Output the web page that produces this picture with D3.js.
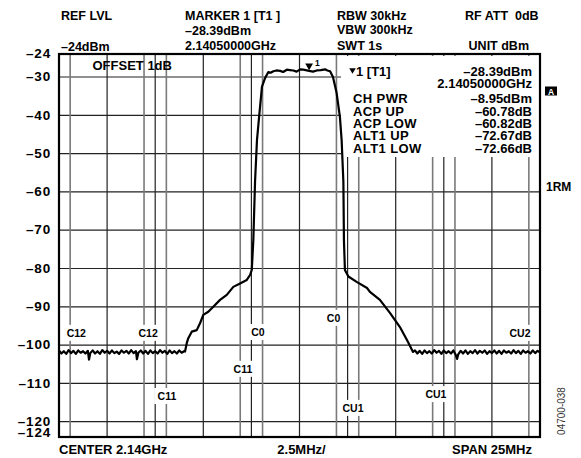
<!DOCTYPE html>
<html>
<head>
<meta charset="utf-8">
<script src="https://cdn.jsdelivr.net/npm/d3@7"></script>
<style>
  body { margin: 0; background: #fff; }
  svg text { font-family: "Liberation Sans", Arial, sans-serif; font-weight: bold; fill: #000; }
</style>
</head>
<body>
<div id="chart"></div>
<script>
// frequency offset from centre (MHz) and level (dBm) of the measured trace
var traceFreq = [
  // lower noise floor
  -12.5, -12.375, -12.25, -12.125, -12, -11.875, -11.75, -11.625, -11.5, -11.375,
  -11.25, -11.125, -11, -10.94, -10.875, -10.75, -10.625, -10.5, -10.375, -10.25,
  -10.125, -10, -9.875, -9.75, -9.625, -9.5, -9.375, -9.25, -9.125, -9,
  -8.875, -8.75, -8.625, -8.5, -8.45, -8.375, -8.25, -8.125, -8, -7.875,
  -7.75, -7.625, -7.5, -7.375, -7.25, -7.125, -7, -6.875, -6.75, -6.625,
  -6.5, -6.375, -6.25, -6.125, -6,
  // lower skirt, channel, upper skirt
  -5.95, -5.86, -5.78, -5.6, -5.34, -5.17, -5.0, -4.74, -4.48, -4.13,
  -3.78, -3.44, -3.09, -2.74, -2.57, -2.48, -2.4, -2.31, -2.21, -2.1,
  -1.95, -1.79, -1.62, -1.5, -1.36, -1.2, -1.01, -0.85, -0.66, -0.5,
  -0.32, -0.15, 0.03, 0.2, 0.5, 0.7, 0.9, 1.1, 1.33, 1.45,
  1.59, 1.74, 1.93, 2.1, 2.19, 2.28, 2.31, 2.36, 2.54, 2.97,
  3.51, 3.66, 4.18, 4.7, 5.22, 5.64, 5.9,
  // upper noise floor
  6, 6.125, 6.25, 6.375, 6.5, 6.625, 6.75, 6.875, 7, 7.125,
  7.25, 7.375, 7.5, 7.625, 7.75, 7.875, 8, 8.125, 8.19, 8.25,
  8.375, 8.5, 8.625, 8.75, 8.875, 9, 9.125, 9.25, 9.375, 9.5,
  9.625, 9.75, 9.875, 10, 10.125, 10.25, 10.375, 10.5, 10.625, 10.75,
  10.875, 11, 11.125, 11.25, 11.375, 11.5, 11.625, 11.75, 11.875, 12,
  12.125, 12.25, 12.375, 12.5
];
var traceLevel = [
  -101.4, -102.2, -101.6, -102.3, -101.3, -102.1, -101.5, -102.3, -101.4, -102.0,
  -101.6, -102.2, -101.5, -103.8, -102.1, -101.4, -102.2, -101.6, -102.3, -101.3,
  -102.0, -101.5, -102.2, -101.4, -102.1, -101.7, -102.3, -101.4, -102.0, -101.5,
  -102.2, -101.3, -102.1, -101.6, -103.7, -102.0, -101.4, -102.2, -101.5, -102.3,
  -101.4, -102.1, -101.6, -102.2, -101.3, -102.0, -101.5, -102.3, -101.4, -102.1,
  -101.6, -102.2, -101.4, -102.0, -101.6,
  -101.7, -99.5, -98.2, -96.5, -96.1, -94.3, -92.1, -91.3, -90.0, -88.2,
  -86.9, -84.8, -83.9, -83.0, -81.7, -80.4, -72.6, -57.3, -46.5, -40.4,
  -32.5, -30.3, -28.7, -28.9, -28.5, -28.3, -28.4, -28.7, -28.1, -28.2,
  -28.3, -28.6, -28.0, -28.1, -28.39, -28.6, -28.3, -28.2, -28.0, -28.3,
  -28.5, -30.0, -34.2, -40.4, -46.5, -57.3, -72.6, -80.4, -82.1, -83.5,
  -85.1, -86.1, -88.2, -91.6, -95.3, -99.2, -101.8,
  -101.4, -102.2, -101.5, -102.3, -101.4, -102.1, -101.6, -102.2, -101.3, -102.0,
  -101.5, -102.3, -101.4, -102.1, -101.6, -102.2, -101.4, -102.6, -103.6, -102.4,
  -101.5, -102.2, -101.4, -102.3, -101.6, -102.1, -101.3, -102.2, -101.5, -102.0,
  -101.4, -102.3, -101.6, -102.1, -101.4, -102.2, -101.5, -102.3, -101.4, -102.0,
  -101.6, -102.2, -101.3, -102.1, -101.5, -102.3, -101.4, -102.0, -101.6, -102.2,
  -101.4, -102.1, -101.5, -101.9
];

var yTicks = [-24, -30, -40, -50, -60, -70, -80, -90, -100, -110, -120, -124];
var xGrid = [-10, -7.5, -5, -2.5, 0, 2.5, 5, 7.5, 10];

// channel edges (MHz)
var channelEdges = [-11.92, -8.08, -6.92, -3.08, -1.92, 1.92, 3.08, 6.92, 8.08, 11.92];
// channel labels: name, frequency (MHz), level (dB)
var chanLabelNames = ['C12', 'C12', 'C11', 'C11', 'C0', 'C0', 'CU1', 'CU1', 'CU2'];
var chanLabelFreq = [-11.6, -7.87, -6.89, -2.94, -2.16, 1.77, 2.78, 7.09, 11.46];
var chanLabelLevel = [-96.8, -96.8, -113.3, -106.2, -96.6, -92.9, -116.4, -112.8, -96.8];

var markerFreq = 0.5, markerLevel = -28.39;

var infoNames = ['CH PWR', 'ACP UP', 'ACP LOW', 'ALT1 UP', 'ALT1 LOW'];
var infoValues = ['\u20138.95dBm', '\u201360.78dB', '\u201360.82dB', '\u201372.67dB', '\u201372.66dB'];

var W = 581, H = 458;
var x = d3.scaleLinear().domain([-12.5, 12.5]).range([59, 540]);
var y = d3.scaleLinear().domain([-124, -24]).range([437, 54]);

var svg = d3.select('#chart').append('svg').attr('width', W).attr('height', H);

function dash(v) { return String(v).replace('-', '\u2013'); }

function txt(tx, ty, s, size, anchor) {
  return svg.append('text').attr('x', tx).attr('y', ty)
    .attr('font-size', size).attr('text-anchor', anchor || 'start').text(s);
}

// header
txt(61, 19.5, 'REF LVL', 12.5);
txt(61, 50.5, '\u201324dBm', 12.5);
txt(185, 19.5, 'MARKER 1 [T1 ]', 12.5);
txt(185, 34.5, '\u201328.39dBm', 12.5);
txt(185, 50, '2.14050000GHz', 12.5);
txt(337, 19.5, 'RBW 30kHz', 12.5);
txt(337, 34, 'VBW 300kHz', 12.5);
txt(337, 49.5, 'SWT 1s', 12.5);
txt(465, 19.5, 'RF ATT  0dB', 12.5).attr('xml:space', 'preserve');
txt(529, 49.5, 'UNIT dBm', 12.5, 'end');

// grid
var grid = svg.append('g');
grid.selectAll('line.h').data(yTicks.slice(1, -1)).enter().append('line')
  .attr('x1', x(-12.5)).attr('x2', x(12.5))
  .attr('y1', function (d) { return y(d); }).attr('y2', function (d) { return y(d); })
  .style('stroke', '#222').style('stroke-width', 1.2);
grid.selectAll('line.v').data(xGrid).enter().append('line')
  .attr('y1', y(-24)).attr('y2', y(-124))
  .attr('x1', function (d) { return x(d); }).attr('x2', function (d) { return x(d); })
  .style('stroke', '#222').style('stroke-width', 1.2);

// channel edges
svg.append('g').selectAll('line').data(channelEdges).enter().append('line')
  .attr('y1', y(-24)).attr('y2', y(-124))
  .attr('x1', function (d) { return x(d); }).attr('x2', function (d) { return x(d); })
  .style('stroke', '#7a7a7a').style('stroke-width', 1.6);

// channel labels with white backing
var cl = svg.append('g').selectAll('g').data(chanLabelNames).enter().append('g')
  .attr('transform', function (d, i) {
    return 'translate(' + x(chanLabelFreq[i]) + ',' + y(chanLabelLevel[i]) + ')';
  });
cl.append('rect').attr('x', function (d) { return -d.length * 3.6 - 2; })
  .attr('y', -8).attr('width', function (d) { return d.length * 7.2 + 4; })
  .attr('height', 16).style('fill', '#fff');
cl.append('text').attr('text-anchor', 'middle').attr('y', 3.8)
  .attr('font-size', 10.5).text(function (d) { return d; });

// info box
svg.append('rect').attr('x', 341).attr('y', 56).attr('width', 198).attr('height', 101)
  .style('fill', '#fff');
svg.append('path').attr('d', d3.symbol().type(d3.symbolTriangle).size(18)())
  .attr('transform', 'translate(352.5,70) rotate(180)').style('fill', '#000');
txt(356, 76, '1 [T1]', 13);
txt(532, 76, '\u201328.39dBm', 13, 'end');
txt(532, 88.3, '2.14050000GHz', 13, 'end');
infoNames.forEach(function (n, i) {
  txt(353, 103.3 + i * 12.35, n, 13).style('letter-spacing', '0.4px');
  txt(532, 103.3 + i * 12.35, infoValues[i], 13, 'end');
});

txt(92.5, 70, 'OFFSET 1dB', 13);

// trace
var pts = traceFreq.map(function (f, i) { return [f, traceLevel[i]]; });
var line = d3.line().x(function (d) { return x(d[0]); }).y(function (d) { return y(d[1]); });
svg.append('path').datum(pts).attr('d', line)
  .style('fill', 'none').style('stroke', '#000').style('stroke-width', 2.2)
  .style('stroke-linejoin', 'round');

// marker
svg.append('path').attr('d', d3.symbol().type(d3.symbolTriangle).size(26)())
  .attr('transform', 'translate(' + x(markerFreq) + ',' + (y(markerLevel) - 5) + ') rotate(180)')
  .style('fill', '#000');
txt(x(markerFreq) + 6, 65.5, '1', 8.5);

// frame
svg.append('rect').attr('x', 59).attr('y', 54).attr('width', 481).attr('height', 383)
  .style('fill', 'none').style('stroke', '#000').style('stroke-width', 2.2);

// y tick labels
svg.append('g').selectAll('text').data(yTicks).enter().append('text')
  .attr('x', 51).attr('text-anchor', 'end').attr('font-size', 13.5)
  .style('letter-spacing', '0.8px')
  .attr('y', function (d) { return d === -124 ? y(d) - 0.3 : y(d) + 4.3; })
  .text(function (d) { return dash(d); });

// bottom labels
txt(59, 454.3, 'CENTER 2.14GHz', 13);
txt(301.5, 454.3, '2.5MHz/', 13, 'middle');
txt(532, 454.3, 'SPAN 25MHz', 13, 'end');

// right side annotations
svg.append('rect').attr('x', 545).attr('y', 86.5).attr('width', 12).attr('height', 9).style('fill', '#000');
svg.append('text').attr('x', 551).attr('y', 94.5).attr('text-anchor', 'middle')
  .attr('font-size', 8.5).style('fill', '#fff').text('A');
txt(546, 190.7, '1RM', 12);
svg.append('text').attr('transform', 'translate(565,411) rotate(-90)')
  .attr('text-anchor', 'middle').attr('font-size', 10)
  .style('font-weight', 'normal').style('fill', '#333').text('04700-038');
</script>
</body>
</html>
